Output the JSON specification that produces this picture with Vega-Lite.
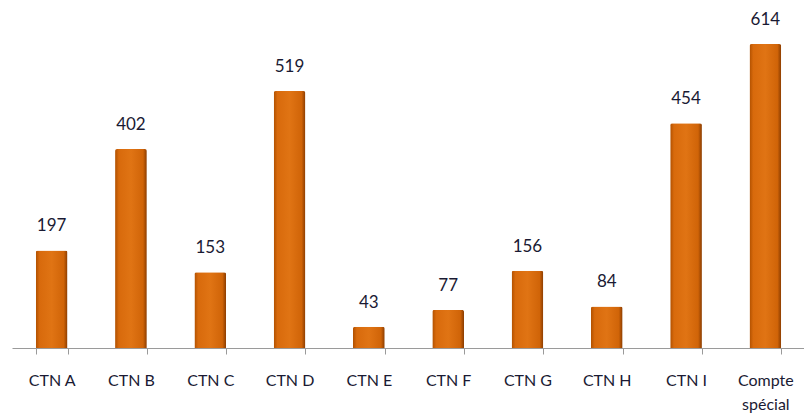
{
  "$schema": "https://vega.github.io/schema/vega-lite/v6.json",
  "autosize": {"type": "none"},
  "width": 793,
  "height": 348,
  "padding": {"left": 12, "top": 0, "right": 0, "bottom": 71},
  "background": "white",
  "config": {"view": {"stroke": null}, "font": "Lato"},
  "data": {"values": [
    {"cat": "CTN A", "v": 197},
    {"cat": "CTN B", "v": 402},
    {"cat": "CTN C", "v": 153},
    {"cat": "CTN D", "v": 519},
    {"cat": "CTN E", "v": 43},
    {"cat": "CTN F", "v": 77},
    {"cat": "CTN G", "v": 156},
    {"cat": "CTN H", "v": 84},
    {"cat": "CTN I", "v": 454},
    {"cat": "Compte spécial", "v": 614}
  ]},
  "encoding": {
    "x": {"field": "cat", "type": "nominal", "sort": null,
      "scale": {"paddingInner": 0.6, "paddingOuter": 0.3},
      "axis": {"title": null, "labelAngle": 0, "tickBand": "extent", "domainColor": "#9a9a9a", "tickColor": "#9a9a9a", "tickSize": 6, "labelPadding": 18, "labelFontSize": 16, "labelColor": "#1a1a33", "labelLineHeight": 24,
        "labelExpr": "datum.label == 'Compte spécial' ? ['Compte', 'spécial'] : datum.label"}},
    "y": {"field": "v", "type": "quantitative", "scale": {"domain": [0, 703], "nice": false}, "axis": null}
  },
  "layer": [
    {"mark": {"type": "bar", "cornerRadiusTopLeft": 2, "cornerRadiusTopRight": 2,
      "color": {"gradient": "linear", "x1": 0, "x2": 1, "y1": 0, "y2": 0,
        "stops": [{"offset": 0, "color": "#b05000"}, {"offset": 0.12, "color": "#d86a0c"}, {"offset": 0.5, "color": "#e07414"}, {"offset": 0.88, "color": "#d06408"}, {"offset": 1, "color": "#8a3c00"}]}}},
    {"mark": {"type": "text", "dy": -24, "fontSize": 17, "color": "#1a1a33"},
      "encoding": {"text": {"field": "v", "type": "quantitative"}}}
  ]
}
